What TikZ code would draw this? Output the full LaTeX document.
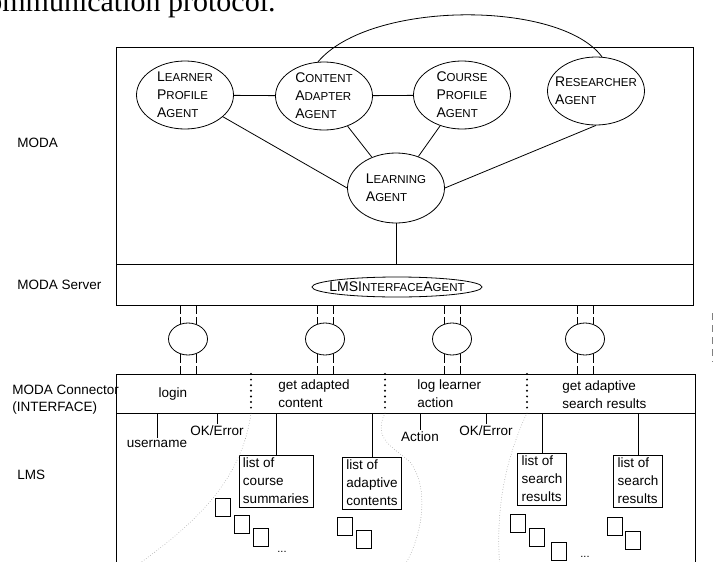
\documentclass[tikz,border=0pt]{standalone}
\usepackage{fontspec}
\setmainfont{Liberation Sans}
\newfontfamily\pagefont{Liberation Serif}
\usetikzlibrary{shapes.geometric,positioning}

% hand made small caps: big first letter, smaller rest
\newcommand{\agentword}[2]{#1{\fontsize{11.5}{18}\selectfont #2}}

\begin{document}
\begin{tikzpicture}[x=1pt, y=-1pt, line width=0.8pt,
    agent/.style={ellipse, draw, minimum width=97pt, minimum height=68pt, inner xsep=-12pt, inner ysep=0pt, align=left, font=\fontsize{14}{18}\selectfont},
    layer/.style={anchor=west, inner sep=0pt, align=left, font=\fontsize{13.5}{17}\selectfont},
    call/.style={inner sep=0pt, align=left, font=\fontsize{13.5}{18}\selectfont},
    msg/.style={anchor=north, inner sep=1.5pt, font=\fontsize{13.5}{16}\selectfont},
    result/.style={draw, align=left, inner xsep=4pt, inner ysep=3pt, font=\fontsize{13.5}{18}\selectfont},
    chan/.style={ellipse, draw, minimum width=39pt, minimum height=32pt, inner sep=0pt},
    link/.style={dash pattern=on 9pt off 3pt},
    split/.style={line width=2.2pt, line cap=round, dash pattern=on 0pt off 5.6pt},
    flow/.style={gray!80, line width=0.8pt, line cap=round, dash pattern=on 0pt off 2.6pt}]

    \useasboundingbox (0,0) rectangle (723,562);
    \clip (0,0) rectangle (723,562);

    % Cut off text of the page above
    \node[font=\pagefont\fontsize{30}{30}\selectfont, anchor=base east, inner sep=0pt] (caption) at (276,11) {communication protocol.};

    % Layer labels
    \node[layer] (modaLbl) at (17,143) {MODA};
    \node[layer] (serverLbl) at (17,285) {MODA Server};
    \node[layer] (connLbl) at (12,400) {MODA Connector\\(INTERFACE)};
    \node[layer] (lmsLbl) at (17,475) {LMS};

    % MODA and MODA Server box
    \draw (116,47) rectangle (693,305);
    \coordinate (serverTop) at (116,264);
    \coordinate (serverBot) at (116,305);
    \draw (serverTop) -- (693,264);

    % Connector and LMS box, open at the bottom
    \coordinate (connTop) at (116,374);
    \coordinate (lmsTop) at (116,413);
    \draw (116,570) -- (connTop) -- (695,374) -- (695,570);
    \draw (lmsTop) -- (695,413);

    % Agents
    \node[agent] (lpa) at (185,95) {\agentword{L}{EARNER}\\\agentword{P}{ROFILE}\\\agentword{A}{GENT}};
    \node[agent] (caa) at (324,96) {\agentword{C}{ONTENT}\\\agentword{A}{DAPTER}\\\agentword{A}{GENT}};
    \node[agent] (cpa) at (462,95) {\agentword{C}{OURSE}\\\agentword{P}{ROFILE}\\\agentword{A}{GENT}};
    \node[agent] (ra) at (596,91) {\agentword{R}{ESEARCHER}\\\agentword{A}{GENT}};
    \node[agent, minimum height=70pt] (la) at (396,188) {\agentword{L}{EARNING}\\\agentword{A}{GENT}};
    \node[ellipse, draw, minimum width=170pt, minimum height=20pt, inner xsep=-10pt, inner ysep=0pt, font=\fontsize{14}{18}\selectfont] (lmsia) at (397,287) {LMS\agentword{I}{NTERFACE}\agentword{A}{GENT}};

    % Links between agents
    \draw (lpa) -- (caa);
    \draw (caa) -- (cpa);
    \draw (lpa) -- (la.west);
    \draw (caa) -- (la);
    \draw (cpa) -- (la);
    \draw (ra.south) -- (la.east);
    \draw (caa.100) .. controls (370,0) and (560,0) .. (ra.80);
    \draw (la.south) -- (la.south |- serverTop);

    % Channels between server and connector
    \foreach \name/\x in {chanA/188, chanB/325, chanC/452, chanD/585} {
        \node[chan] (\name) at (\x,339) {};
        \draw[link] (\name.118 |- serverBot) -- (\name.118);
        \draw[link] (\name.62 |- serverBot) -- (\name.62);
        \draw[link] (\name.242) -- (\name.242 |- connTop);
        \draw[link] (\name.298) -- (\name.298 |- connTop);
    }
    \draw[gray, dash pattern=on 7pt off 5pt] (712,313) -- (712,362);

    % Dotted separators of the calls
    \foreach \x [count=\i] in {251,385,527} {
        \coordinate (sepTop\i) at (\x,374);
        \coordinate (sepBot\i) at (\x,413);
        \draw[split] (sepTop\i) -- (sepBot\i);
    }

    % Calls
    \node[call] (login) at (173,394) {login};
    \node[call, anchor=west] (adapted) at (278,394) {get adapted\\content};
    \node[call, anchor=west] (logact) at (417,394) {log learner\\action};
    \node[call, anchor=west] (search) at (562,395) {get adaptive\\search results};

    % Messages
    \node[msg] (user) at (157,438) {username};
    \node[msg] (okA) at (217,424) {OK/Error};
    \node[msg] (act) at (420,430) {Action};
    \node[msg] (okB) at (486,424) {OK/Error};
    \foreach \m in {user,okA,act,okB}
        \draw (\m.north) -- (\m.north |- lmsTop);

    % Results
    \node[result] (courses) at (276,481) {list of\\course\\summaries};
    \node[result] (contents) at (372,483) {list of\\adaptive\\contents};
    \node[result] (hitsA) at (542,479) {list of\\search\\results};
    \node[result] (hitsB) at (638,481) {list of\\search\\results};
    \foreach \r in {courses,contents,hitsA,hitsB}
        \draw (\r.north) -- (\r.north |- lmsTop);

    % Result items
    \foreach \x/\y in {215/498, 234/515, 253/528, 337/517, 356/530, 510/514, 529/528, 551/542, 607/517, 625/531}
        \draw (\x,\y) rectangle ++(15,18);
    \node[font=\fontsize{11}{11}\selectfont, anchor=base] (moreA) at (282,552) {...};
    \node[font=\fontsize{11}{11}\selectfont, anchor=base] (moreB) at (585,557) {...};

    % Dotted flow lines
    \draw[flow] (sepBot1) .. controls (242,480) and (195,525) .. (130,570);
    \draw[flow] (sepBot2) .. controls (372,440) and (395,448) .. (410,462) .. controls (428,485) and (425,530) .. (405,565);
    \draw[flow] (sepBot3) .. controls (505,460) and (495,510) .. (500,570);

\end{tikzpicture}
\end{document}
